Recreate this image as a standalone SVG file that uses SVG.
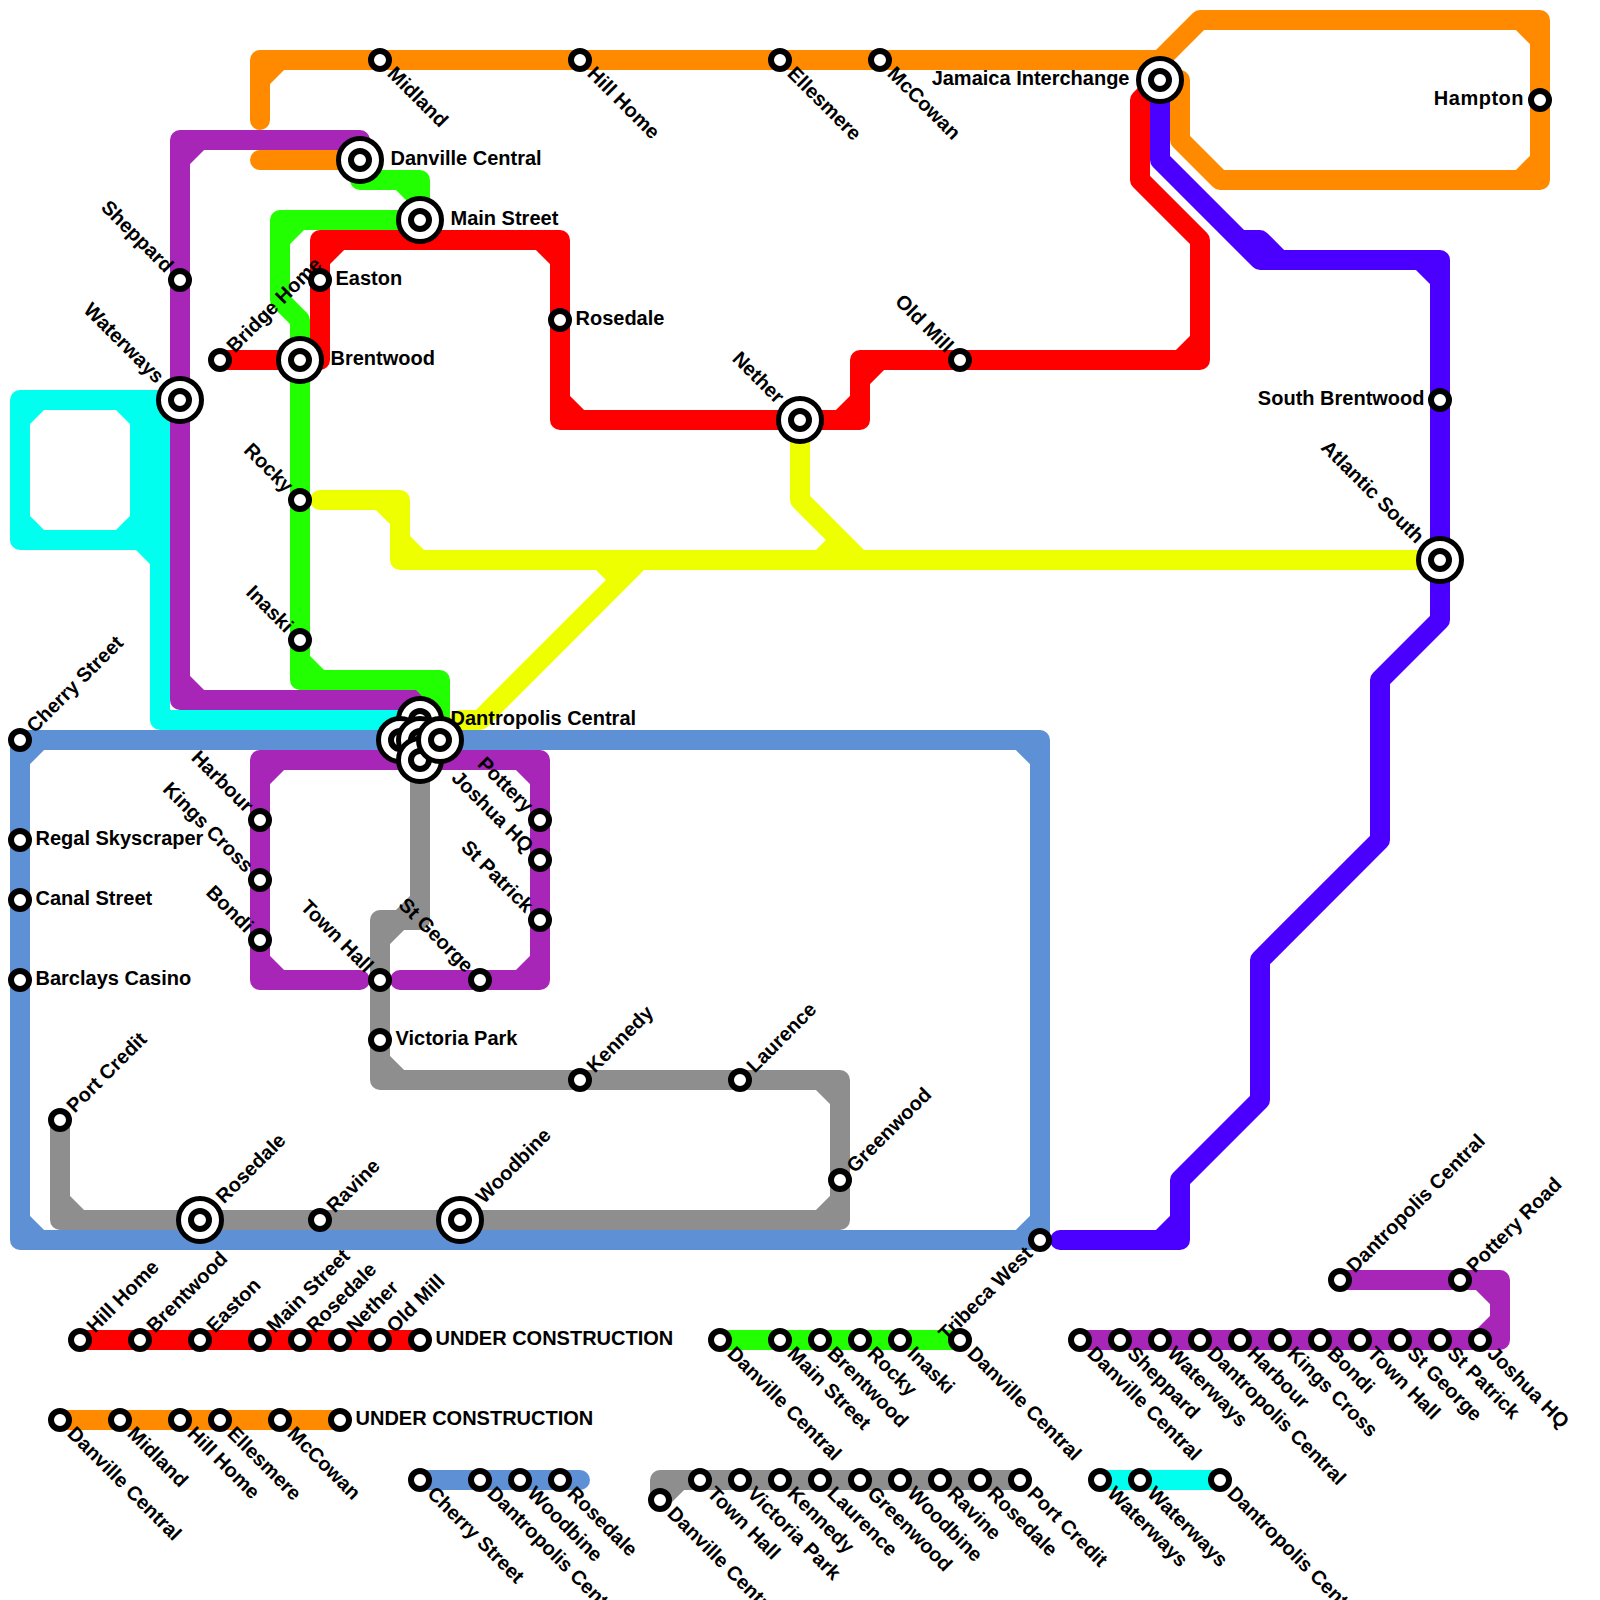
<svg xmlns="http://www.w3.org/2000/svg" width="1600" height="1600" viewBox="0 0 1600 1600">
<style>
.l{fill:none;stroke-width:20;stroke-linecap:round;stroke-linejoin:round}
.o{stroke:#ff8a00}.p{stroke:#a726b8}.g{stroke:#22ff00}.r{stroke:#ff0000}.y{stroke:#eeff00}.c{stroke:#00ffee}.u{stroke:#5e90d6}.k{stroke:#8e8e8e}.v{stroke:#4b00ff}
.ring{fill:#fff;stroke:#000}
text{font-family:"Liberation Sans",Arial,sans-serif;font-weight:700;font-size:20px;fill:#000}
.e{text-anchor:end}
</style>
<defs>
<circle id="st" class="ring" r="9" stroke-width="6"/>
<g id="ic"><circle class="ring" r="21.5" stroke-width="5"/><circle class="ring" r="9" stroke-width="6"/></g>
</defs>
<rect width="1600" height="1600" fill="#fff"/>
<g id="connectors">
<path class="l c" d="M180 400H20V540H140L160 560V720H400M140 400V540M160 400V560M20 420L40 400M120 400L140 420M20 520L40 540M120 540L140 520"/>
<path class="l o" d="M260 120V60H1160L1200 20H1540V180H1220L1180 140V80H1160M260 80L280 60M1520 20L1540 40M1540 160L1520 180M260 160H360"/>
<path class="l p" d="M360 160V140H180V700H420V720M180 160L200 140M180 680L200 700"/>
<path class="l r" d="M220 360H320V240H560V420H860V360H1200V240L1140 180V100L1160 80M320 260L340 240M540 240L560 260M560 400L580 420M840 420L860 400M860 380L880 360M1180 360L1200 340"/>
<path class="l y" d="M320 500H400V560H1440M380 500L400 520M400 540L420 560M800 420V500L860 560M820 560L840 540M460 720H480L640 560M600 560L620 580"/>
<path class="l g" d="M360 160V180H420V220H280V300L300 320V680H440V720M400 180L420 200M300 220L280 240M300 660L320 680M420 680L440 700"/>
<path class="l k" d="M420 740V920H380V1080H840V1220H60V1120M420 900L400 920M400 920L380 940M380 1060L400 1080M820 1080L840 1100M840 1200L820 1220M60 1200L80 1220"/>
<path class="l p" d="M360 980H260V760H540V980H400M260 780L280 760M520 760L540 780M540 960L520 980M280 980L260 960"/>
<path class="l u" d="M1040 1240H20V740H1040V1240M20 760L40 740M1020 740L1040 760M1040 1220L1020 1240M40 1240L20 1220"/>
<path class="l v" d="M1160 80V160L1260 260H1440V620L1380 680V840L1260 960V1100L1180 1180V1240H1060M1240 240H1260L1280 260M1420 260L1440 280M1160 1240L1180 1220"/>
<path class="l r" d="M80 1340H420"/>
<path class="l o" d="M60 1420H340"/>
<path class="l u" d="M420 1480H580"/>
<path class="l k" d="M660 1500V1480H1020M660 1500L680 1480"/>
<path class="l g" d="M720 1340H960"/>
<path class="l p" d="M1080 1340H1500V1280H1340M1480 1280L1500 1300M1500 1320L1480 1340"/>
<path class="l c" d="M1100 1480H1220"/>
</g>
<g id="stations">
<g id="n-midland" transform="translate(380 60)"><use href="#st"/><text transform="rotate(45)" x="15" y="6">Midland</text></g>
<g id="n-hill-home" transform="translate(580 60)"><use href="#st"/><text transform="rotate(45)" x="15" y="6">Hill Home</text></g>
<g id="n-ellesmere" transform="translate(780 60)"><use href="#st"/><text transform="rotate(45)" x="15" y="6">Ellesmere</text></g>
<g id="n-mccowan" transform="translate(880 60)"><use href="#st"/><text transform="rotate(45)" x="15" y="6">McCowan</text></g>
<g id="n-danville" transform="translate(360 160)"><use href="#ic"/><text x="30.5" y="4.5">Danville Central</text></g>
<g id="n-main-street" transform="translate(420 220)"><use href="#ic"/><text x="30.5" y="4.5">Main Street</text></g>
<g id="n-sheppard" transform="translate(180 280)"><use href="#st"/><text class="e" transform="rotate(45)" x="-15" y="6">Sheppard</text></g>
<g id="n-waterways" transform="translate(180 400)"><use href="#ic"/><text class="e" transform="rotate(45)" x="-28" y="6">Waterways</text></g>
<g id="n-bridge-home" transform="translate(220 360)"><use href="#st"/><text transform="rotate(-45)" x="15" y="6">Bridge Home</text></g>
<g id="n-easton" transform="translate(320 280)"><use href="#st"/><text x="15.5" y="4.5">Easton</text></g>
<g id="n-brentwood" transform="translate(300 360)"><use href="#ic"/><text x="30.5" y="4.5">Brentwood</text></g>
<g id="n-rosedale" transform="translate(560 320)"><use href="#st"/><text x="15.5" y="4.5">Rosedale</text></g>
<g id="n-nether" transform="translate(800 420)"><use href="#ic"/><text class="e" transform="rotate(45)" x="-28" y="6">Nether</text></g>
<g id="n-old-mill" transform="translate(960 360)"><use href="#st"/><text class="e" transform="rotate(45)" x="-15" y="6">Old Mill</text></g>
<g id="n-jamaica" transform="translate(1160 80)"><use href="#ic"/><text class="e" x="-30.5" y="4.5">Jamaica Interchange</text></g>
<g id="n-hampton" transform="translate(1540 100)"><use href="#st"/><text class="e" x="-16" y="4.5" letter-spacing=".5">Hampton</text></g>
<g id="n-south-brentwood" transform="translate(1440 400)"><use href="#st"/><text class="e" x="-15.5" y="4.5">South Brentwood</text></g>
<g id="n-atlantic-south" transform="translate(1440 560)"><use href="#ic"/><text class="e" transform="rotate(45)" x="-28" y="6">Atlantic South</text></g>
<g id="n-rocky" transform="translate(300 500)"><use href="#st"/><text class="e" transform="rotate(45)" x="-15" y="6">Rocky</text></g>
<g id="n-inaski" transform="translate(300 640)"><use href="#st"/><text class="e" transform="rotate(45)" x="-15" y="6">Inaski</text></g>
<g id="n-dantropolis" transform="translate(420 720)"><use href="#ic"/><use href="#ic" x="-20" y="20"/><use href="#ic" y="20"/><use href="#ic" y="40"/><use href="#ic" x="20" y="20"/><text x="30.5" y="4.5">Dantropolis Central</text></g>
<g id="n-cherry-street" transform="translate(20 740)"><use href="#st"/><text transform="rotate(-45)" x="15" y="6">Cherry Street</text></g>
<g id="n-regal" transform="translate(20 840)"><use href="#st"/><text x="15.5" y="4.5">Regal Skyscraper</text></g>
<g id="n-canal" transform="translate(20 900)"><use href="#st"/><text x="15.5" y="4.5">Canal Street</text></g>
<g id="n-barclays" transform="translate(20 980)"><use href="#st"/><text x="15.5" y="4.5">Barclays Casino</text></g>
<g id="n-harbour" transform="translate(260 820)"><use href="#st"/><text class="e" transform="rotate(45)" x="-15" y="6">Harbour</text></g>
<g id="n-kings-cross" transform="translate(260 880)"><use href="#st"/><text class="e" transform="rotate(45)" x="-15" y="6">Kings Cross</text></g>
<g id="n-bondi" transform="translate(260 940)"><use href="#st"/><text class="e" transform="rotate(45)" x="-15" y="6">Bondi</text></g>
<g id="n-pottery" transform="translate(540 820)"><use href="#st"/><text class="e" transform="rotate(45)" x="-15" y="6">Pottery</text></g>
<g id="n-joshua" transform="translate(540 860)"><use href="#st"/><text class="e" transform="rotate(45)" x="-15" y="6">Joshua HQ</text></g>
<g id="n-st-patrick" transform="translate(540 920)"><use href="#st"/><text class="e" transform="rotate(45)" x="-15" y="6">St Patrick</text></g>
<g id="n-st-george" transform="translate(480 980)"><use href="#st"/><text class="e" transform="rotate(45)" x="-15" y="6">St George</text></g>
<g id="n-town-hall" transform="translate(380 980)"><use href="#st"/><text class="e" transform="rotate(45)" x="-15" y="6">Town Hall</text></g>
<g id="n-victoria" transform="translate(380 1040)"><use href="#st"/><text x="15.5" y="4.5">Victoria Park</text></g>
<g id="n-kennedy" transform="translate(580 1080)"><use href="#st"/><text transform="rotate(-45)" x="15" y="6">Kennedy</text></g>
<g id="n-laurence" transform="translate(740 1080)"><use href="#st"/><text transform="rotate(-45)" x="15" y="6">Laurence</text></g>
<g id="n-greenwood" transform="translate(840 1180)"><use href="#st"/><text transform="rotate(-45)" x="15" y="6">Greenwood</text></g>
<g id="n-woodbine" transform="translate(460 1220)"><use href="#ic"/><text transform="rotate(-45)" x="28" y="6">Woodbine</text></g>
<g id="n-ravine" transform="translate(320 1220)"><use href="#st"/><text transform="rotate(-45)" x="15" y="6">Ravine</text></g>
<g id="n-rosedale-s" transform="translate(200 1220)"><use href="#ic"/><text transform="rotate(-45)" x="28" y="6">Rosedale</text></g>
<g id="n-port-credit" transform="translate(60 1120)"><use href="#st"/><text transform="rotate(-45)" x="15" y="6">Port Credit</text></g>
<g id="n-tribeca" transform="translate(1040 1240)"><use href="#st"/><text class="e" transform="rotate(-45)" x="-15" y="6">Tribeca West</text></g>
</g>
<g id="legend-red">
<g id="lr1" transform="translate(80 1340)"><use href="#st"/><text transform="rotate(-45)" x="15" y="6">Hill Home</text></g>
<g id="lr2" transform="translate(140 1340)"><use href="#st"/><text transform="rotate(-45)" x="15" y="6">Brentwood</text></g>
<g id="lr3" transform="translate(200 1340)"><use href="#st"/><text transform="rotate(-45)" x="15" y="6">Easton</text></g>
<g id="lr4" transform="translate(260 1340)"><use href="#st"/><text transform="rotate(-45)" x="15" y="6">Main Street</text></g>
<g id="lr5" transform="translate(300 1340)"><use href="#st"/><text transform="rotate(-45)" x="15" y="6">Rosedale</text></g>
<g id="lr6" transform="translate(340 1340)"><use href="#st"/><text transform="rotate(-45)" x="15" y="6">Nether</text></g>
<g id="lr7" transform="translate(380 1340)"><use href="#st"/><text transform="rotate(-45)" x="15" y="6">Old Mill</text></g>
<g id="lr8" transform="translate(420 1340)"><use href="#st"/><text x="15.5" y="4.5">UNDER CONSTRUCTION</text></g>
</g>
<g id="legend-orange">
<g id="lo1" transform="translate(60 1420)"><use href="#st"/><text transform="rotate(45)" x="15" y="6">Danville Central</text></g>
<g id="lo2" transform="translate(120 1420)"><use href="#st"/><text transform="rotate(45)" x="15" y="6">Midland</text></g>
<g id="lo3" transform="translate(180 1420)"><use href="#st"/><text transform="rotate(45)" x="15" y="6">Hill Home</text></g>
<g id="lo4" transform="translate(220 1420)"><use href="#st"/><text transform="rotate(45)" x="15" y="6">Ellesmere</text></g>
<g id="lo5" transform="translate(280 1420)"><use href="#st"/><text transform="rotate(45)" x="15" y="6">McCowan</text></g>
<g id="lo6" transform="translate(340 1420)"><use href="#st"/><text x="15.5" y="4.5">UNDER CONSTRUCTION</text></g>
</g>
<g id="legend-blue">
<g id="lu1" transform="translate(420 1480)"><use href="#st"/><text transform="rotate(45)" x="15" y="6">Cherry Street</text></g>
<g id="lu2" transform="translate(480 1480)"><use href="#st"/><text transform="rotate(45)" x="15" y="6">Dantropolis Central</text></g>
<g id="lu3" transform="translate(520 1480)"><use href="#st"/><text transform="rotate(45)" x="15" y="6">Woodbine</text></g>
<g id="lu4" transform="translate(560 1480)"><use href="#st"/><text transform="rotate(45)" x="15" y="6">Rosedale</text></g>
</g>
<g id="legend-grey">
<g id="lk0" transform="translate(660 1500)"><use href="#st"/><text transform="rotate(45)" x="15" y="6">Danville Central</text></g>
<g id="lk1" transform="translate(700 1480)"><use href="#st"/><text transform="rotate(45)" x="15" y="6">Town Hall</text></g>
<g id="lk2" transform="translate(740 1480)"><use href="#st"/><text transform="rotate(45)" x="15" y="6">Victoria Park</text></g>
<g id="lk3" transform="translate(780 1480)"><use href="#st"/><text transform="rotate(45)" x="15" y="6">Kennedy</text></g>
<g id="lk4" transform="translate(820 1480)"><use href="#st"/><text transform="rotate(45)" x="15" y="6">Laurence</text></g>
<g id="lk5" transform="translate(860 1480)"><use href="#st"/><text transform="rotate(45)" x="15" y="6">Greenwood</text></g>
<g id="lk6" transform="translate(900 1480)"><use href="#st"/><text transform="rotate(45)" x="15" y="6">Woodbine</text></g>
<g id="lk7" transform="translate(940 1480)"><use href="#st"/><text transform="rotate(45)" x="15" y="6">Ravine</text></g>
<g id="lk8" transform="translate(980 1480)"><use href="#st"/><text transform="rotate(45)" x="15" y="6">Rosedale</text></g>
<g id="lk9" transform="translate(1020 1480)"><use href="#st"/><text transform="rotate(45)" x="15" y="6">Port Credit</text></g>
</g>
<g id="legend-green">
<g id="lg1" transform="translate(720 1340)"><use href="#st"/><text transform="rotate(45)" x="15" y="6">Danville Central</text></g>
<g id="lg2" transform="translate(780 1340)"><use href="#st"/><text transform="rotate(45)" x="15" y="6">Main Street</text></g>
<g id="lg3" transform="translate(820 1340)"><use href="#st"/><text transform="rotate(45)" x="15" y="6">Brentwood</text></g>
<g id="lg4" transform="translate(860 1340)"><use href="#st"/><text transform="rotate(45)" x="15" y="6">Rocky</text></g>
<g id="lg5" transform="translate(900 1340)"><use href="#st"/><text transform="rotate(45)" x="15" y="6">Inaski</text></g>
<g id="lg6" transform="translate(960 1340)"><use href="#st"/><text transform="rotate(45)" x="15" y="6">Danville Central</text></g>
</g>
<g id="legend-purple">
<g id="lp1" transform="translate(1080 1340)"><use href="#st"/><text transform="rotate(45)" x="15" y="6">Danville Central</text></g>
<g id="lp2" transform="translate(1120 1340)"><use href="#st"/><text transform="rotate(45)" x="15" y="6">Sheppard</text></g>
<g id="lp3" transform="translate(1160 1340)"><use href="#st"/><text transform="rotate(45)" x="15" y="6">Waterways</text></g>
<g id="lp4" transform="translate(1200 1340)"><use href="#st"/><text transform="rotate(45)" x="15" y="6">Dantropolis Central</text></g>
<g id="lp5" transform="translate(1240 1340)"><use href="#st"/><text transform="rotate(45)" x="15" y="6">Harbour</text></g>
<g id="lp6" transform="translate(1280 1340)"><use href="#st"/><text transform="rotate(45)" x="15" y="6">Kings Cross</text></g>
<g id="lp7" transform="translate(1320 1340)"><use href="#st"/><text transform="rotate(45)" x="15" y="6">Bondi</text></g>
<g id="lp8" transform="translate(1360 1340)"><use href="#st"/><text transform="rotate(45)" x="15" y="6">Town Hall</text></g>
<g id="lp9" transform="translate(1400 1340)"><use href="#st"/><text transform="rotate(45)" x="15" y="6">St George</text></g>
<g id="lp10" transform="translate(1440 1340)"><use href="#st"/><text transform="rotate(45)" x="15" y="6">St Patrick</text></g>
<g id="lp11" transform="translate(1480 1340)"><use href="#st"/><text transform="rotate(45)" x="15" y="6">Joshua HQ</text></g>
<g id="lp12" transform="translate(1340 1280)"><use href="#st"/><text transform="rotate(-45)" x="15" y="6">Dantropolis Central</text></g>
<g id="lp13" transform="translate(1460 1280)"><use href="#st"/><text transform="rotate(-45)" x="15" y="6">Pottery Road</text></g>
</g>
<g id="legend-cyan">
<g id="lc1" transform="translate(1100 1480)"><use href="#st"/><text transform="rotate(45)" x="15" y="6">Waterways</text></g>
<g id="lc2" transform="translate(1140 1480)"><use href="#st"/><text transform="rotate(45)" x="15" y="6">Waterways</text></g>
<g id="lc3" transform="translate(1220 1480)"><use href="#st"/><text transform="rotate(45)" x="15" y="6">Dantropolis Central</text></g>
</g>
</svg>
